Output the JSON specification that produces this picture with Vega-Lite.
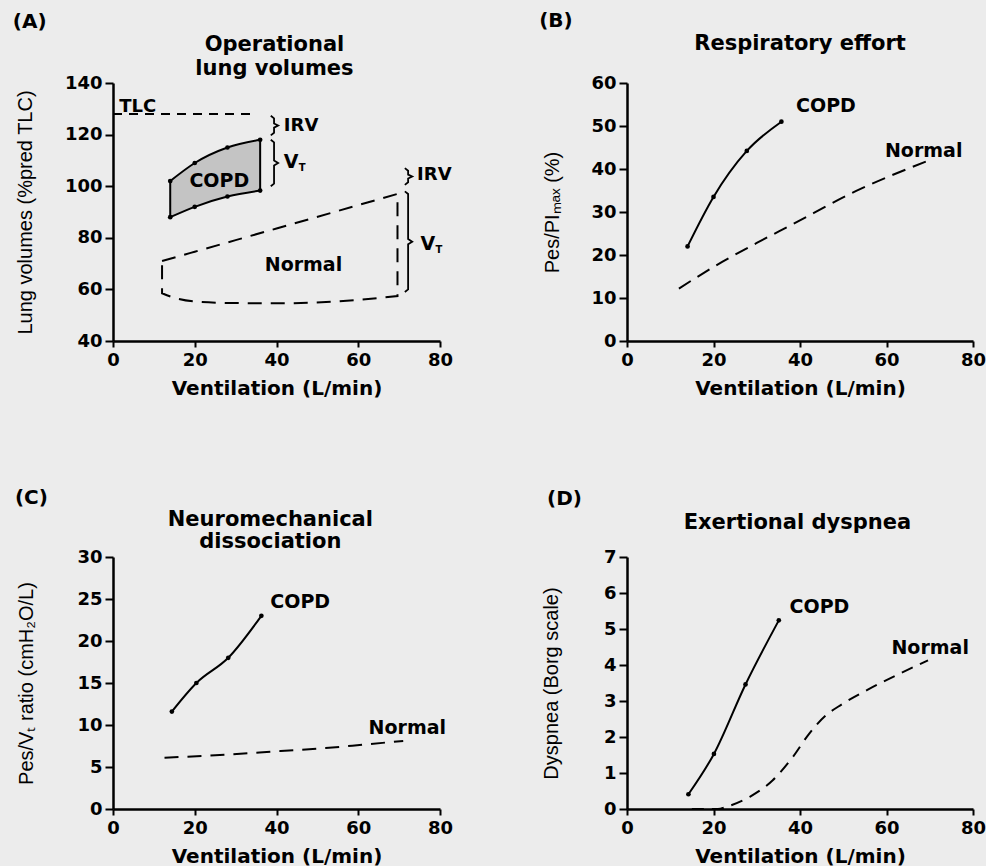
{
  "$schema": "https://vega.github.io/schema/vega-lite/v6.json",
  "background": "#ececec",
  "padding": {"left": 12, "top": 11, "right": 0, "bottom": 0},
  "config": {
    "view": {"stroke": null},
    "font": "DejaVu Sans",
    "axis": {"domainColor": "black", "domainWidth": 2.5, "tickColor": "black", "tickWidth": 2, "tickSize": 7, "labelFont": "DejaVu Sans", "labelFontWeight": "bold", "labelFontSize": 18, "labelColor": "black", "labelPadding": 3, "titleFont": "DejaVu Sans", "titleFontWeight": "bold", "titleFontSize": 20, "titleColor": "black", "grid": false, "labelFlush": false, "labelOverlap": false},
    "axisX": {"tickSize": 6, "labelPadding": 4, "titlePadding": 9},
    "axisY": {"titleFont": "Liberation Sans", "titleFontWeight": "normal", "titleFontSize": 20, "tickSize": 8},
    "text": {"font": "DejaVu Sans", "fontWeight": "bold", "color": "black", "fontSize": 19},
    "line": {"color": "black", "strokeWidth": 2},
    "point": {"color": "black", "filled": true, "size": 22, "opacity": 1}
  },
  "datasets": {
    "a_copd": [{"x": 14, "y": 102, "y2": 88}, {"x": 20, "y": 109, "y2": 92}, {"x": 28, "y": 115, "y2": 96}, {"x": 36, "y": 118, "y2": 98.3}],
    "a_pts": [{"x": 14, "y": 102}, {"x": 20, "y": 109}, {"x": 28, "y": 115}, {"x": 36, "y": 118}, {"x": 14, "y": 88}, {"x": 20, "y": 92}, {"x": 28, "y": 96}, {"x": 36, "y": 98.3}],
    "a_norm": [{"x": 12, "y": 71, "y2": 58.5}, {"x": 16, "y": 72.8, "y2": 56.3}, {"x": 20, "y": 74.6, "y2": 55.3}, {"x": 30, "y": 79.1, "y2": 54.7}, {"x": 40, "y": 83.6, "y2": 54.6}, {"x": 55, "y": 90.4, "y2": 55.4}, {"x": 69.6, "y": 97, "y2": 57.4}],
    "a_tlc": [{"x": 0, "y": 128}, {"x": 35, "y": 128}],
    "a_brace": [
      {"id": "c_irv", "o": 1, "x": 38.6, "y": 127.3}, {"id": "c_irv", "o": 2, "x": 39.4, "y": 126.3}, {"id": "c_irv", "o": 3, "x": 39.4, "y": 124.3}, {"id": "c_irv", "o": 4, "x": 40.4, "y": 123.5}, {"id": "c_irv", "o": 5, "x": 39.4, "y": 122.7}, {"id": "c_irv", "o": 6, "x": 39.4, "y": 120.7}, {"id": "c_irv", "o": 7, "x": 38.6, "y": 119.7},
      {"id": "c_vt", "o": 1, "x": 38.6, "y": 118}, {"id": "c_vt", "o": 2, "x": 39.4, "y": 117}, {"id": "c_vt", "o": 3, "x": 39.4, "y": 110}, {"id": "c_vt", "o": 4, "x": 40.4, "y": 109}, {"id": "c_vt", "o": 5, "x": 39.4, "y": 108}, {"id": "c_vt", "o": 6, "x": 39.4, "y": 101}, {"id": "c_vt", "o": 7, "x": 38.6, "y": 100},
      {"id": "n_irv", "o": 1, "x": 71.4, "y": 107}, {"id": "n_irv", "o": 2, "x": 72.2, "y": 106}, {"id": "n_irv", "o": 3, "x": 72.2, "y": 104.5}, {"id": "n_irv", "o": 4, "x": 73.2, "y": 103.75}, {"id": "n_irv", "o": 5, "x": 72.2, "y": 103}, {"id": "n_irv", "o": 6, "x": 72.2, "y": 101.5}, {"id": "n_irv", "o": 7, "x": 71.4, "y": 100.5},
      {"id": "n_vt", "o": 1, "x": 71.4, "y": 98}, {"id": "n_vt", "o": 2, "x": 72.2, "y": 97}, {"id": "n_vt", "o": 3, "x": 72.2, "y": 79.5}, {"id": "n_vt", "o": 4, "x": 73.2, "y": 78.5}, {"id": "n_vt", "o": 5, "x": 72.2, "y": 77.5}, {"id": "n_vt", "o": 6, "x": 72.2, "y": 60}, {"id": "n_vt", "o": 7, "x": 71.4, "y": 59}
    ],
    "a_lab": [{"label": "COPD", "x": 26, "y": 102}, {"label": "Normal", "x": 46.6, "y": 69.5}],
    "a_ann": [{"label": "TLC", "x": 1.5, "y": 130.8}, {"label": "IRV", "x": 41.8, "y": 123.4}, {"label": "IRV", "x": 74.4, "y": 104.4}],
    "a_v": [{"label": "V", "x": 41.8, "y": 109.2}, {"label": "V", "x": 75.2, "y": 77.6}],
    "a_tag": [{"label": "(A)", "x": -24.5, "y": 163.5}],
    "a_title": [{"label": "Operational", "x": 39.5, "y": 154.8}, {"label": "lung volumes", "x": 39.5, "y": 145.5}],
    "b_copd": [{"x": 14, "y": 22}, {"x": 20, "y": 33.5}, {"x": 27.7, "y": 44.2}, {"x": 35.7, "y": 51}],
    "b_norm": [{"x": 12, "y": 12.2}, {"x": 22, "y": 18.4}, {"x": 30, "y": 22.8}, {"x": 38, "y": 27}, {"x": 53, "y": 34.9}, {"x": 69.3, "y": 41.8}],
    "b_lab": [{"label": "COPD", "x": 46, "y": 54.6}, {"label": "Normal", "x": 68.6, "y": 44.2}],
    "b_tag": [{"label": "(B)", "x": -20.3, "y": 74.4}],
    "b_title": [{"label": "Respiratory effort", "x": 40, "y": 69.1}],
    "c_copd": [{"x": 14.4, "y": 11.6}, {"x": 20.4, "y": 15}, {"x": 28.2, "y": 18}, {"x": 36.3, "y": 23}],
    "c_norm": [{"x": 12.6, "y": 6.1}, {"x": 25, "y": 6.4}, {"x": 41, "y": 6.9}, {"x": 52, "y": 7.25}, {"x": 62, "y": 7.7}, {"x": 71, "y": 8.1}],
    "c_lab": [{"label": "COPD", "x": 45.8, "y": 24.7}, {"label": "Normal", "x": 72, "y": 9.7}],
    "c_tag": [{"label": "(C)", "x": -24, "y": 37}],
    "c_title": [{"label": "Neuromechanical", "x": 38.5, "y": 34.45}, {"label": "dissociation", "x": 38.5, "y": 31.75}],
    "d_copd": [{"x": 14.2, "y": 0.41}, {"x": 20.1, "y": 1.53}, {"x": 27.4, "y": 3.46}, {"x": 35.1, "y": 5.24}],
    "d_norm": [{"x": 15, "y": 0}, {"x": 21, "y": 0}, {"x": 23, "y": 0.06}, {"x": 28.4, "y": 0.34}, {"x": 33.7, "y": 0.8}, {"x": 38.3, "y": 1.44}, {"x": 42.1, "y": 2.09}, {"x": 45.9, "y": 2.59}, {"x": 49.7, "y": 2.91}, {"x": 55.9, "y": 3.33}, {"x": 62.7, "y": 3.74}, {"x": 69.6, "y": 4.13}],
    "d_lab": [{"label": "COPD", "x": 44.5, "y": 5.62}, {"label": "Normal", "x": 70.1, "y": 4.47}],
    "d_tag": [{"label": "(D)", "x": -18.5, "y": 8.6}],
    "d_title": [{"label": "Exertional dyspnea", "x": 39.4, "y": 7.94}]
  },
  "columns": 2,
  "align": "all",
  "spacing": {"row": 90, "column": 67},
  "concat": [
    {
      "width": 327, "height": 258,
      "encoding": {
        "x": {"field": "x", "type": "quantitative", "scale": {"domain": [0, 80], "nice": false, "zero": false}, "axis": {"values": [0, 20, 40, 60, 80], "title": "Ventilation (L/min)"}},
        "y": {"field": "y", "type": "quantitative", "scale": {"domain": [40, 140], "nice": false, "zero": false}, "axis": {"values": [40, 60, 80, 100, 120, 140], "title": "Lung volumes (%pred TLC)", "titlePadding": 29}}
      },
      "layer": [
        {"data": {"name": "a_copd"}, "mark": {"type": "area", "interpolate": "monotone", "fill": "#c4c4c4", "stroke": "black", "strokeWidth": 2}, "encoding": {"y2": {"field": "y2"}}},
        {"data": {"name": "a_norm"}, "mark": {"type": "area", "interpolate": "monotone", "fill": "black", "fillOpacity": 0, "stroke": "black", "strokeWidth": 2, "strokeDash": [14, 9]}, "encoding": {"y2": {"field": "y2"}}},
        {"data": {"name": "a_tlc"}, "mark": {"type": "line", "strokeDash": [9, 7]}, "encoding": {}},
        {"data": {"name": "a_brace"}, "mark": {"type": "line", "strokeWidth": 1.8}, "encoding": {"detail": {"field": "id"}, "order": {"field": "o"}}},
        {"data": {"name": "a_pts"}, "mark": {"type": "point", "shape": "circle"}, "encoding": {}},
        {"data": {"name": "a_lab"}, "mark": {"type": "text", "align": "center", "baseline": "middle"}, "encoding": {"text": {"field": "label"}}},
        {"data": {"name": "a_ann"}, "mark": {"type": "text", "align": "left", "baseline": "middle", "fontSize": 18}, "encoding": {"text": {"field": "label"}}},
        {"data": {"name": "a_v"}, "mark": {"type": "text", "align": "left", "baseline": "middle", "fontSize": 19}, "encoding": {"text": {"field": "label"}}},
        {"data": {"name": "a_v"}, "mark": {"type": "text", "align": "left", "baseline": "middle", "fontSize": 10, "dx": 15, "dy": 6, "text": "T"}, "encoding": {}},
        {"data": {"name": "a_tag"}, "mark": {"type": "text", "align": "left", "baseline": "middle", "fontSize": 20}, "encoding": {"text": {"field": "label"}}},
        {"data": {"name": "a_title"}, "mark": {"type": "text", "align": "center", "baseline": "middle", "fontSize": 21}, "encoding": {"text": {"field": "label"}}}
      ]
    },
    {
      "width": 346, "height": 258,
      "encoding": {
        "x": {"field": "x", "type": "quantitative", "scale": {"domain": [0, 80], "nice": false, "zero": false}, "axis": {"values": [0, 20, 40, 60, 80], "title": "Ventilation (L/min)"}},
        "y": {"field": "y", "type": "quantitative", "scale": {"domain": [0, 60], "nice": false, "zero": false}, "axis": {"values": [0, 10, 20, 30, 40, 50, 60], "title": "Pes/PIₘₐₓ (%)", "titlePadding": 28}}
      },
      "layer": [
        {"data": {"name": "b_norm"}, "mark": {"type": "line", "interpolate": "monotone", "strokeDash": [14, 8]}, "encoding": {}},
        {"data": {"name": "b_copd"}, "mark": {"type": "line", "interpolate": "monotone"}, "encoding": {}},
        {"data": {"name": "b_copd"}, "mark": {"type": "point", "shape": "circle"}, "encoding": {}},
        {"data": {"name": "b_lab"}, "mark": {"type": "text", "align": "center", "baseline": "middle"}, "encoding": {"text": {"field": "label"}}},
        {"data": {"name": "b_tag"}, "mark": {"type": "text", "align": "left", "baseline": "middle", "fontSize": 20}, "encoding": {"text": {"field": "label"}}},
        {"data": {"name": "b_title"}, "mark": {"type": "text", "align": "center", "baseline": "middle", "fontSize": 21}, "encoding": {"text": {"field": "label"}}}
      ]
    },
    {
      "width": 327, "height": 252,
      "encoding": {
        "x": {"field": "x", "type": "quantitative", "scale": {"domain": [0, 80], "nice": false, "zero": false}, "axis": {"values": [0, 20, 40, 60, 80], "title": "Ventilation (L/min)"}},
        "y": {"field": "y", "type": "quantitative", "scale": {"domain": [0, 30], "nice": false, "zero": false}, "axis": {"values": [0, 5, 10, 15, 20, 25, 30], "title": "Pes/Vₜ ratio (cmH₂O/L)", "titlePadding": 40}}
      },
      "layer": [
        {"data": {"name": "c_norm"}, "mark": {"type": "line", "interpolate": "monotone", "strokeDash": [14, 9]}, "encoding": {}},
        {"data": {"name": "c_copd"}, "mark": {"type": "line", "interpolate": "monotone"}, "encoding": {}},
        {"data": {"name": "c_copd"}, "mark": {"type": "point", "shape": "circle"}, "encoding": {}},
        {"data": {"name": "c_lab"}, "mark": {"type": "text", "align": "center", "baseline": "middle"}, "encoding": {"text": {"field": "label"}}},
        {"data": {"name": "c_tag"}, "mark": {"type": "text", "align": "left", "baseline": "middle", "fontSize": 20}, "encoding": {"text": {"field": "label"}}},
        {"data": {"name": "c_title"}, "mark": {"type": "text", "align": "center", "baseline": "middle", "fontSize": 21}, "encoding": {"text": {"field": "label"}}}
      ]
    },
    {
      "width": 346, "height": 252,
      "encoding": {
        "x": {"field": "x", "type": "quantitative", "scale": {"domain": [0, 80], "nice": false, "zero": false}, "axis": {"values": [0, 20, 40, 60, 80], "title": "Ventilation (L/min)"}},
        "y": {"field": "y", "type": "quantitative", "scale": {"domain": [0, 7], "nice": false, "zero": false}, "axis": {"values": [0, 1, 2, 3, 4, 5, 6, 7], "title": "Dyspnea (Borg scale)", "titlePadding": 42}}
      },
      "layer": [
        {"data": {"name": "d_norm"}, "mark": {"type": "line", "interpolate": "monotone", "strokeDash": [12, 8]}, "encoding": {}},
        {"data": {"name": "d_copd"}, "mark": {"type": "line", "interpolate": "monotone"}, "encoding": {}},
        {"data": {"name": "d_copd"}, "mark": {"type": "point", "shape": "circle"}, "encoding": {}},
        {"data": {"name": "d_lab"}, "mark": {"type": "text", "align": "center", "baseline": "middle"}, "encoding": {"text": {"field": "label"}}},
        {"data": {"name": "d_tag"}, "mark": {"type": "text", "align": "left", "baseline": "middle", "fontSize": 20}, "encoding": {"text": {"field": "label"}}},
        {"data": {"name": "d_title"}, "mark": {"type": "text", "align": "center", "baseline": "middle", "fontSize": 21}, "encoding": {"text": {"field": "label"}}}
      ]
    }
  ]
}
